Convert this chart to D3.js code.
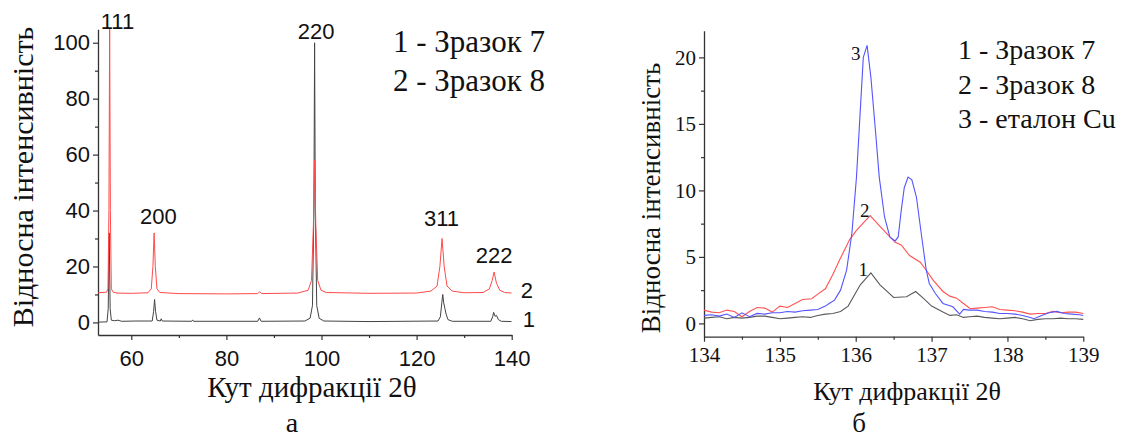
<!DOCTYPE html>
<html>
<head>
<meta charset="utf-8">
<script src="https://cdn.jsdelivr.net/npm/d3@7"></script>
<style>
  body { margin: 0; background: #fff; }
  svg { display: block; }
</style>
</head>
<body>
<script>
// Panel "а": full pattern, [angle, intensity]
const sample7Full = [
  [53, 0.1], [54.9, 0.2], [55.15, 5], [55.35, 32], [55.55, 5], [55.8, 0.8], [56.5, 0.6], [57.2, 0.8],
  [58, 0.4], [61, 0.5], [64.4, 0.5], [64.7, 4], [64.9, 8.2], [65.1, 4], [65.4, 0.8], [66.1, 0.5],
  [66.3, 1.3], [66.5, 0.5], [72.7, 0.4], [72.9, 0.9], [73.1, 0.4], [86.6, 0.4], [86.95, 1.6],
  [87.3, 0.4], [96.5, 0.5], [97.6, 1.5], [98.1, 6], [98.4, 40], [98.55, 100], [98.7, 40], [99, 6],
  [99.5, 1.5], [100.5, 0.5], [110, 0.3], [124.5, 0.5], [125, 2], [125.3, 7], [125.5, 10],
  [125.7, 7], [125.95, 5], [126.2, 3], [126.6, 1], [127.5, 0.4], [135.6, 0.4], [136, 2],
  [136.2, 3.6], [136.5, 2.2], [136.8, 2.5], [137.2, 1], [137.8, 0.4], [140, 0.3]
];
const sample8Full = [
  [53, 10.6], [54.8, 10.8], [55.1, 12], [55.3, 40], [55.45, 106], [55.6, 40], [55.8, 12], [56.2, 10.8],
  [57, 10.5], [60, 10.4], [63.5, 10.6], [64.2, 12], [64.55, 20], [64.8, 32], [65.05, 20], [65.4, 12],
  [66, 10.7], [70, 10.3], [80, 10.2], [86.6, 10.3], [87, 11], [87.4, 10.3], [95, 10.5], [97.2, 11.5],
  [97.9, 15], [98.3, 35], [98.55, 58], [98.8, 35], [99.2, 15], [99.9, 11.5], [101, 10.7], [110, 10.4],
  [120, 10.5], [123, 11.2], [124.3, 13], [124.9, 20], [125.35, 30], [125.8, 20], [126.4, 13],
  [127.5, 11.2], [130, 10.6], [134, 10.7], [135.3, 12], [135.9, 15], [136.3, 18], [136.8, 14],
  [137.5, 11.5], [138.5, 10.7], [140, 10.5]
];
const peakLabels = [
  { t: "111", x: 57.1, y: 104.9 }, { t: "200", x: 65.7, y: 35.2 }, { t: "220", x: 98.85, y: 101.3 },
  { t: "311", x: 125.25, y: 34.5 }, { t: "222", x: 136.3, y: 21.3 }
];
const curveLabelsL = [{ t: "2", x: 143.2, y: 8.7 }, { t: "1", x: 143.6, y: -1.5 }];
const legendL = ["1 - Зразок 7", "2 - Зразок 8"];
const xTicksL = [60, 80, 100, 120, 140];
const yTicksL = [0, 20, 40, 60, 80, 100];

// Panel "б": 222 peak zoom
const sample7Zoom = [
  [134.0, 0.4], [134.1, 0.45], [134.2, 0.5], [134.3, 0.35], [134.4, 0.45], [134.5, 0.4], [134.6, 0.45],
  [134.7, 0.55], [134.8, 0.55], [134.9, 0.45], [135.0, 0.35], [135.1, 0.4], [135.2, 0.45], [135.3, 0.5],
  [135.4, 0.45], [135.5, 0.6], [135.6, 0.7], [135.7, 0.75], [135.8, 0.9], [135.9, 1.3], [136.06, 2.9],
  [136.2, 3.8], [136.32, 2.9], [136.5, 1.95], [136.67, 2.0], [136.79, 2.4], [136.89, 1.9], [137.0, 1.3],
  [137.15, 0.85], [137.24, 0.6], [137.33, 0.65], [137.42, 0.45], [137.5, 0.5], [137.6, 0.55],
  [137.7, 0.45], [137.8, 0.4], [137.9, 0.35], [138.0, 0.4], [138.1, 0.45], [138.2, 0.35], [138.3, 0.2],
  [138.4, 0.3], [138.5, 0.35], [138.6, 0.35], [138.7, 0.4], [138.8, 0.35], [138.9, 0.35], [139.0, 0.3]
];
const sample8Zoom = [
  [134.0, 1.0], [134.1, 0.85], [134.2, 0.8], [134.3, 1.0], [134.4, 0.9], [134.5, 0.5], [134.6, 0.9],
  [134.7, 1.2], [134.8, 1.15], [134.9, 0.85], [135.0, 1.3], [135.1, 1.2], [135.2, 1.5], [135.3, 1.8],
  [135.42, 1.85], [135.5, 2.2], [135.6, 2.6], [135.7, 3.7], [135.79, 4.8], [135.92, 6.3], [136.01, 7.0],
  [136.19, 8.1], [136.32, 7.3], [136.45, 6.5], [136.52, 6.1], [136.6, 5.9], [136.71, 5.1], [136.85, 4.6],
  [136.93, 4.0], [137.02, 3.25], [137.15, 2.4], [137.24, 2.05], [137.33, 1.9], [137.42, 1.5],
  [137.51, 1.1], [137.6, 1.15], [137.7, 1.2], [137.8, 1.25], [137.9, 1.05], [138.0, 1.0], [138.1, 0.95],
  [138.2, 0.85], [138.3, 0.7], [138.4, 0.75], [138.5, 0.75], [138.6, 0.9], [138.7, 0.8], [138.8, 0.85],
  [138.9, 0.85], [139.0, 0.75]
];
const cuRefZoom = [
  [134.0, 0.6], [134.1, 0.65], [134.2, 0.55], [134.3, 0.7], [134.4, 0.45], [134.5, 0.8], [134.6, 0.5],
  [134.7, 0.75], [134.8, 0.7], [134.9, 0.8], [135.0, 0.8], [135.1, 0.9], [135.2, 0.85], [135.3, 0.95],
  [135.4, 1.0], [135.5, 1.05], [135.6, 1.3], [135.65, 1.5], [135.72, 1.75], [135.8, 2.5], [135.88, 4.0],
  [135.95, 6.8], [136.01, 11.0], [136.06, 16], [136.1, 20.0], [136.15, 20.9], [136.2, 18.5],
  [136.26, 14.5], [136.31, 11.0], [136.38, 8.0], [136.45, 6.5], [136.52, 6.2], [136.56, 6.5],
  [136.6, 8.5], [136.64, 10.2], [136.69, 11.0], [136.74, 10.8], [136.8, 9.5], [136.87, 6.5],
  [136.93, 4.0], [136.97, 3.0], [137.05, 2.25], [137.15, 1.5], [137.28, 1.25], [137.37, 0.7],
  [137.42, 1.05], [137.5, 1.0], [137.6, 1.0], [137.7, 0.9], [137.8, 0.85], [137.9, 0.75], [138.0, 0.75],
  [138.1, 0.7], [138.2, 0.6], [138.3, 0.45], [138.35, 0.35], [138.45, 0.6], [138.55, 0.8], [138.65, 0.9],
  [138.75, 0.75], [138.85, 0.7], [138.95, 0.65], [139.0, 0.6]
];
const curveLabelsR = [{ t: "3", x: 136.0, y: 19.8 }, { t: "2", x: 136.12, y: 8.0 }, { t: "1", x: 136.1, y: 3.6 }];
const legendR = ["1 - Зразок 7", "2 - Зразок 8", "3 - еталон Cu"];
const xTicksR = [134, 135, 136, 137, 138, 139];
const yTicksR = [0, 5, 10, 15, 20];

const sans = "Liberation Sans";
const serif = "Liberation Serif";

const svg = d3.select("body").append("svg")
  .attr("width", 1123)
  .attr("height", 439);

// draws bottom + left axes with major and minor ticks, returns nothing
function drawAxes(x, y, major, minor, font, fontSize, padX, padY) {
  const y0 = y.range()[0], x0 = x.range()[0];
  const fmt = d3.format("d");

  svg.append("g").attr("transform", `translate(0,${y0})`)
    .call(d3.axisBottom(x).tickValues(minor.x).tickSize(3).tickSizeOuter(0).tickFormat(""))
    .call(g => g.select(".domain").remove());
  svg.append("g").attr("transform", `translate(${x0},0)`)
    .call(d3.axisLeft(y).tickValues(minor.y).tickSize(3).tickSizeOuter(0).tickFormat(""))
    .call(g => g.select(".domain").remove());

  const gx = svg.append("g").attr("transform", `translate(0,${y0})`)
    .call(d3.axisBottom(x).tickValues(major.x).tickSize(5).tickSizeOuter(0).tickPadding(padX).tickFormat(fmt));
  const gy = svg.append("g").attr("transform", `translate(${x0},0)`)
    .call(d3.axisLeft(y).tickValues(major.y).tickSize(5).tickSizeOuter(0).tickPadding(padY).tickFormat(fmt));

  [gx, gy].forEach(g => {
    g.selectAll(".tick text")
      .attr("font-family", font)
      .attr("font-size", fontSize)
      .attr("fill", "#111");
  });
  svg.selectAll("g line").attr("stroke", "#333").attr("stroke-width", 1.2);
  svg.selectAll("g .domain").attr("stroke", "#333").attr("stroke-width", 1.3);
}

// ---------- panel а ----------
const xL = d3.scaleLinear().domain([53, 140]).range([98, 511.7]);
const yL = d3.scaleLinear().domain([-4.5, 104.8]).range([335, 29.3]);

drawAxes(xL, yL,
  { x: xTicksL, y: yTicksL },
  { x: [70, 90, 110, 130], y: [10, 30, 50, 70, 90] },
  sans, 22, 10, 3);

svg.append("clipPath").attr("id", "clipL")
  .append("rect").attr("x", 98).attr("y", 29.3).attr("width", 413.7).attr("height", 305.7);

const lineL = d3.line().x(d => xL(d[0])).y(d => yL(d[1]));
svg.append("path").datum(sample7Full)
  .attr("d", lineL).attr("fill", "none").attr("stroke", "#444").attr("stroke-width", 1)
  .attr("clip-path", "url(#clipL)");
svg.append("path").datum(sample8Full)
  .attr("d", lineL).attr("fill", "none").attr("stroke", "#ff4a4a").attr("stroke-width", 1)
  .attr("clip-path", "url(#clipL)");

svg.selectAll(".peakL").data(peakLabels.concat(curveLabelsL)).join("text")
  .attr("class", "peakL")
  .attr("x", d => xL(d.x)).attr("y", d => yL(d.y))
  .attr("text-anchor", "middle")
  .attr("font-family", sans).attr("font-size", 22).attr("fill", "#111")
  .text(d => d.t);

svg.selectAll(".legL").data(legendL).join("text")
  .attr("class", "legL")
  .attr("x", 393).attr("y", (d, i) => 52 + i * 39)
  .attr("font-family", serif).attr("font-size", 31).attr("fill", "#111")
  .text(d => d);

svg.append("text")
  .attr("transform", "translate(33,177) rotate(-90)")
  .attr("text-anchor", "middle")
  .attr("font-family", serif).attr("font-size", 30).attr("fill", "#111")
  .text("Відносна інтенсивність");
svg.append("text")
  .attr("x", 312).attr("y", 397).attr("text-anchor", "middle")
  .attr("font-family", serif).attr("font-size", 29).attr("fill", "#111")
  .text("Кут дифракції 2θ");
svg.append("text")
  .attr("x", 292).attr("y", 432).attr("text-anchor", "middle")
  .attr("font-family", serif).attr("font-size", 28).attr("fill", "#111")
  .text("а");

// ---------- panel б ----------
const xR = d3.scaleLinear().domain([134, 139]).range([704, 1083.3]);
const yR = d3.scaleLinear().domain([-1, 22]).range([336.7, 30.8]);

drawAxes(xR, yR,
  { x: xTicksR, y: yTicksR },
  { x: [134.5, 135.5, 136.5, 137.5, 138.5], y: [2.5, 7.5, 12.5, 17.5] },
  serif, 21, 5, 3);

const lineR = d3.line().x(d => xR(d[0])).y(d => yR(d[1]));
[[sample7Zoom, "#5a5a5a"], [sample8Zoom, "#ff5252"], [cuRefZoom, "#5555ff"]].forEach(([s, c]) => {
  svg.append("path").datum(s)
    .attr("d", lineR).attr("fill", "none").attr("stroke", c).attr("stroke-width", 1.1);
});

svg.selectAll(".lblR").data(curveLabelsR).join("text")
  .attr("class", "lblR")
  .attr("x", d => xR(d.x)).attr("y", d => yR(d.y))
  .attr("text-anchor", "middle")
  .attr("font-family", serif).attr("font-size", 19).attr("fill", "#111")
  .text(d => d.t);

svg.selectAll(".legR").data(legendR).join("text")
  .attr("class", "legR")
  .attr("x", 958).attr("y", (d, i) => 59 + i * 34.5)
  .attr("font-family", serif).attr("font-size", 28).attr("fill", "#111")
  .text(d => d);

svg.append("text")
  .attr("transform", "translate(660,198) rotate(-90)")
  .attr("text-anchor", "middle")
  .attr("font-family", serif).attr("font-size", 27).attr("fill", "#111")
  .text("Відносна інтенсивність");
svg.append("text")
  .attr("x", 907).attr("y", 400).attr("text-anchor", "middle")
  .attr("font-family", serif).attr("font-size", 26).attr("fill", "#111")
  .text("Кут дифракції 2θ");
svg.append("text")
  .attr("x", 859).attr("y", 432).attr("text-anchor", "middle")
  .attr("font-family", serif).attr("font-size", 27).attr("fill", "#111")
  .text("б");
</script>
</body>
</html>
